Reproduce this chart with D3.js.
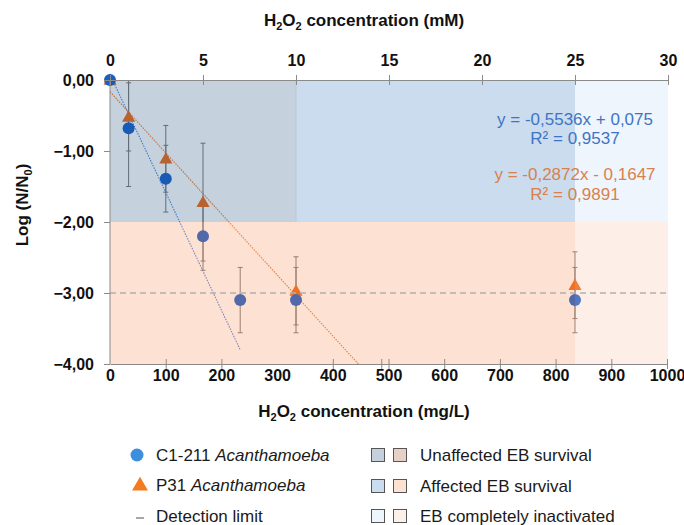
<!DOCTYPE html>
<html>
<head>
<meta charset="utf-8">
<script src="https://cdn.jsdelivr.net/npm/d3@7"></script>
<style>
  body { margin: 0; background: #fff; }
  svg { font-family: "Liberation Sans", Arial, sans-serif; }
  .axis path, .axis line { stroke: #8a8a8a; }
  .axis text { font-size: 16px; font-weight: bold; fill: #111; font-family: "Liberation Sans", Arial, sans-serif; }
</style>
</head>
<body>
<script>
// H2O2 dose (mM) and log reduction
var concC1 = [0, 1, 3, 5, 7, 10, 25];
var meanC1 = [0, -0.68, -1.39, -2.20, -3.10, -3.10, -3.10];
var errC1  = [0, 0.82, 0.47, 0.48, 0.46, 0.46, 0.46];

var concP31 = [0, 1, 3, 5, 10, 25];
var meanP31 = [0, -0.52, -1.11, -1.72, -2.97, -2.89];
var errP31  = [0, 0.48, 0.47, 0.83, 0.48, 0.47];

// linear fits (slope, intercept, x range drawn)
var fitC1 = { slope: -0.5536, icpt: 0.075, x0: 0, x1: 7, eq: "y = -0,5536x + 0,075", r2: "R² = 0,9537" };
var fitP31 = { slope: -0.2872, icpt: -0.1647, x0: 0, x1: 14, eq: "y = -0,2872x - 0,1647", r2: "R² = 0,9891" };

var detectionLimit = -3;

var mMTicks = [0, 5, 10, 15, 20, 25, 30];
var mgTickLabels = [0, 100, 200, 300, 400, 500, 600, 700, 800, 900, 1000];
var mgTickMarks = [100, 200, 400, 487, 500, 600, 700, 800, 900, 1000];
var logTicks = [0, -1, -2, -3, -4];

// zones: x range in mM, y range in log units, colour seen on white
var zones = [
  { x0: 0, x1: 10, y0: 0, y1: -2, col: "#c5d2de" },
  { x0: 10, x1: 25, y0: 0, y1: -2, col: "#cadcee" },
  { x0: 25, x1: 30, y0: 0, y1: -2, col: "#eff5fd" },
  { x0: 0, x1: 25, y0: -2, y1: -4, col: "#fde1d2" },
  { x0: 25, x1: 30, y0: -2, y1: -4, col: "#fdefe7" }
];

var legendSeries = ["C1-211", "P31"];
var legendZones = [
  { label: "Unaffected EB survival", cols: ["#c5d0dc", "#e6d1c4"] },
  { label: "Affected EB survival", cols: ["#cadcee", "#fde1d2"] },
  { label: "EB completely inactivated", cols: ["#eff5fd", "#fdf0e8"] }
];

var blue = "#1a5fc8", orange = "#ee6a16";
var zoneAlpha = 0.25;

var W = 684, H = 525;
var pLeft = 110, pRight = 668, pTop = 80, pBottom = 364;

var x = d3.scaleLinear().domain([0, 30]).range([pLeft, pRight]);
var xMg = d3.scaleLinear().domain([0, 1000]).range([pLeft, 667]);
var y = d3.scaleLinear().domain([-4, 0]).range([pBottom, pTop]);

var loc = d3.formatLocale({ decimal: ",", thousands: ".", grouping: [3], currency: ["", ""] });
var fmt = loc.format(".2f");

var svg = d3.select("body").append("svg").attr("width", W).attr("height", H);

svg.append("defs").append("clipPath").attr("id", "plotclip")
  .append("rect").attr("x", pLeft).attr("y", pTop).attr("width", pRight - pLeft).attr("height", pBottom - pTop);

var plot = svg.append("g").attr("clip-path", "url(#plotclip)");

// fit lines
[[fitC1, "#4f8ae0"], [fitP31, "#ee7a30"]].forEach(function(f) {
  var fit = f[0];
  plot.append("line")
    .attr("x1", x(fit.x0)).attr("y1", y(fit.slope * fit.x0 + fit.icpt))
    .attr("x2", x(fit.x1)).attr("y2", y(fit.slope * fit.x1 + fit.icpt))
    .attr("stroke", f[1]).attr("stroke-width", 1.1).attr("stroke-dasharray", "1.5,1.2");
});

// error bars
function errorBars(conc, mean, err) {
  conc.forEach(function(c, i) {
    if (!err[i]) return;
    var g = plot.append("g").attr("stroke", "#7a7a7a").attr("stroke-width", 1);
    g.append("line").attr("x1", x(c)).attr("x2", x(c)).attr("y1", y(mean[i] + err[i])).attr("y2", y(mean[i] - err[i]));
    [mean[i] + err[i], mean[i] - err[i]].forEach(function(v) {
      g.append("line").attr("x1", x(c) - 2.5).attr("x2", x(c) + 2.5).attr("y1", y(v)).attr("y2", y(v));
    });
  });
}
errorBars(concP31, meanP31, errP31);
errorBars(concC1, meanC1, errC1);

var tri = d3.symbol().type(d3.symbolTriangle).size(75);

// points (not clipped so the corner point shows fully)
var pts = svg.append("g");
pts.selectAll(".p31").data(concP31).enter().append("path")
  .attr("transform", function(d, i) { return "translate(" + x(d) + "," + (y(meanP31[i]) + 1) + ")"; })
  .attr("d", tri).attr("fill", orange);
pts.selectAll(".c1").data(concC1).enter().append("circle")
  .attr("cx", function(d) { return x(d); })
  .attr("cy", function(d, i) { return y(meanC1[i]); })
  .attr("r", 6).attr("fill", blue);

// translucent zones laid over the marks
function overlayCol(c) {
  var r = d3.rgb(c);
  var f = function(v) { return Math.max(0, Math.min(255, (v - (1 - zoneAlpha) * 255) / zoneAlpha)); };
  return d3.rgb(f(r.r), f(r.g), f(r.b)).toString();
}
svg.append("g").selectAll("rect").data(zones).enter().append("rect")
  .attr("x", function(d) { return x(d.x0); })
  .attr("y", function(d) { return y(d.y0); })
  .attr("width", function(d) { return x(d.x1) - x(d.x0); })
  .attr("height", function(d) { return y(d.y1) - y(d.y0); })
  .attr("fill", function(d) { return overlayCol(d.col); })
  .attr("fill-opacity", zoneAlpha);

svg.append("line")
  .attr("x1", x(10)).attr("x2", x(10)).attr("y1", y(0)).attr("y2", y(-2))
  .attr("stroke", "#b9c8d8").attr("stroke-width", 1);

// detection limit
svg.append("line")
  .attr("x1", pLeft).attr("x2", pRight).attr("y1", y(detectionLimit)).attr("y2", y(detectionLimit))
  .attr("stroke", "#b4b0ae").attr("stroke-width", 1.5).attr("stroke-dasharray", "6,4");

// axes
var topAxis = svg.append("g").attr("class", "axis").attr("transform", "translate(0," + pTop + ")")
  .call(d3.axisTop(x).tickValues(mMTicks).tickSizeInner(5).tickSizeOuter(0).tickPadding(9));
topAxis.selectAll(".tick line").attr("y1", 5);

var leftAxis = svg.append("g").attr("class", "axis").attr("transform", "translate(" + pLeft + ",0)")
  .call(d3.axisLeft(y).tickValues(logTicks).tickFormat(fmt).tickSizeInner(6).tickSizeOuter(0).tickPadding(10));
leftAxis.select(".domain").remove();
svg.append("line").attr("x1", pLeft).attr("x2", pLeft).attr("y1", pTop).attr("y2", pBottom).attr("stroke", "#8a8a8a");

var botLabels = svg.append("g").attr("class", "axis").attr("transform", "translate(0," + pBottom + ")")
  .call(d3.axisBottom(xMg).tickValues(mgTickLabels).tickFormat(d3.format("d")).tickSize(0).tickPadding(6));
botLabels.select(".domain").remove();
var botMarks = svg.append("g").attr("class", "axis").attr("transform", "translate(0," + pBottom + ")")
  .call(d3.axisBottom(xMg).tickValues(mgTickMarks).tickFormat("").tickSizeInner(5).tickSizeOuter(0));
botMarks.selectAll(".tick line").attr("y1", -5);

// axis titles
function h2o2Title(t, ty, unit) {
  var tx = t.append("text").attr("x", 364).attr("y", ty).attr("text-anchor", "middle")
    .attr("font-size", 17).attr("font-weight", "bold").attr("fill", "#111");
  tx.append("tspan").text("H");
  tx.append("tspan").attr("font-size", 11).attr("dy", 4).text("2");
  tx.append("tspan").attr("dy", -4).text("O");
  tx.append("tspan").attr("font-size", 11).attr("dy", 4).text("2");
  tx.append("tspan").attr("dy", -4).text(" concentration (" + unit + ")");
}
h2o2Title(svg, 26, "mM");
h2o2Title(svg, 417, "mg/L");

var yt = svg.append("text").attr("transform", "translate(28,205) rotate(-90)").attr("text-anchor", "middle")
  .attr("font-size", 17).attr("font-weight", "bold").attr("fill", "#111");
yt.append("tspan").text("Log (N/N");
yt.append("tspan").attr("font-size", 11).attr("dy", 4).text("0");
yt.append("tspan").attr("dy", -4).text(")");

// fit equations
[[fitC1, "#3f74c4", -0.55, -0.81], [fitP31, "#d9814c", -1.33, -1.61]].forEach(function(f) {
  svg.append("text").attr("x", x(25)).attr("y", y(f[2]) + 6).attr("text-anchor", "middle")
    .attr("font-size", 17).attr("fill", f[1]).text(f[0].eq);
  svg.append("text").attr("x", x(25)).attr("y", y(f[3]) + 6).attr("text-anchor", "middle")
    .attr("font-size", 17).attr("fill", f[1]).text(f[0].r2);
});

// legend
var lg = svg.append("g").attr("font-size", 17).attr("fill", "#1a1a1a");
lg.append("circle").attr("cx", 137).attr("cy", 455).attr("r", 6.5).attr("fill", "#3b8fdd");
lg.append("path").attr("transform", "translate(140,486)")
  .attr("d", d3.symbol().type(d3.symbolTriangle).size(110)).attr("fill", "#f47b20");
lg.append("line").attr("x1", 136).attr("x2", 144).attr("y1", 518).attr("y2", 518)
  .attr("stroke", "#a8a8a8").attr("stroke-width", 2);
[461, 491].forEach(function(by, i) {
  var t = lg.append("text").attr("x", 156).attr("y", by);
  t.append("tspan").text(legendSeries[i] + " ");
  t.append("tspan").attr("font-style", "italic").text("Acanthamoeba");
});
lg.append("text").attr("x", 156).attr("y", 522).text("Detection limit");

var zoneRows = [448, 479, 509];
legendZones.forEach(function(z, i) {
  z.cols.forEach(function(c, j) {
    lg.append("rect").attr("x", 371.5 + j * 22).attr("y", zoneRows[i] + 0.5).attr("width", 13).attr("height", 13)
      .attr("fill", c).attr("stroke", "#555").attr("stroke-width", 1);
  });
  lg.append("text").attr("x", 420).attr("y", zoneRows[i] + 13).text(z.label);
});
</script>
</body>
</html>
